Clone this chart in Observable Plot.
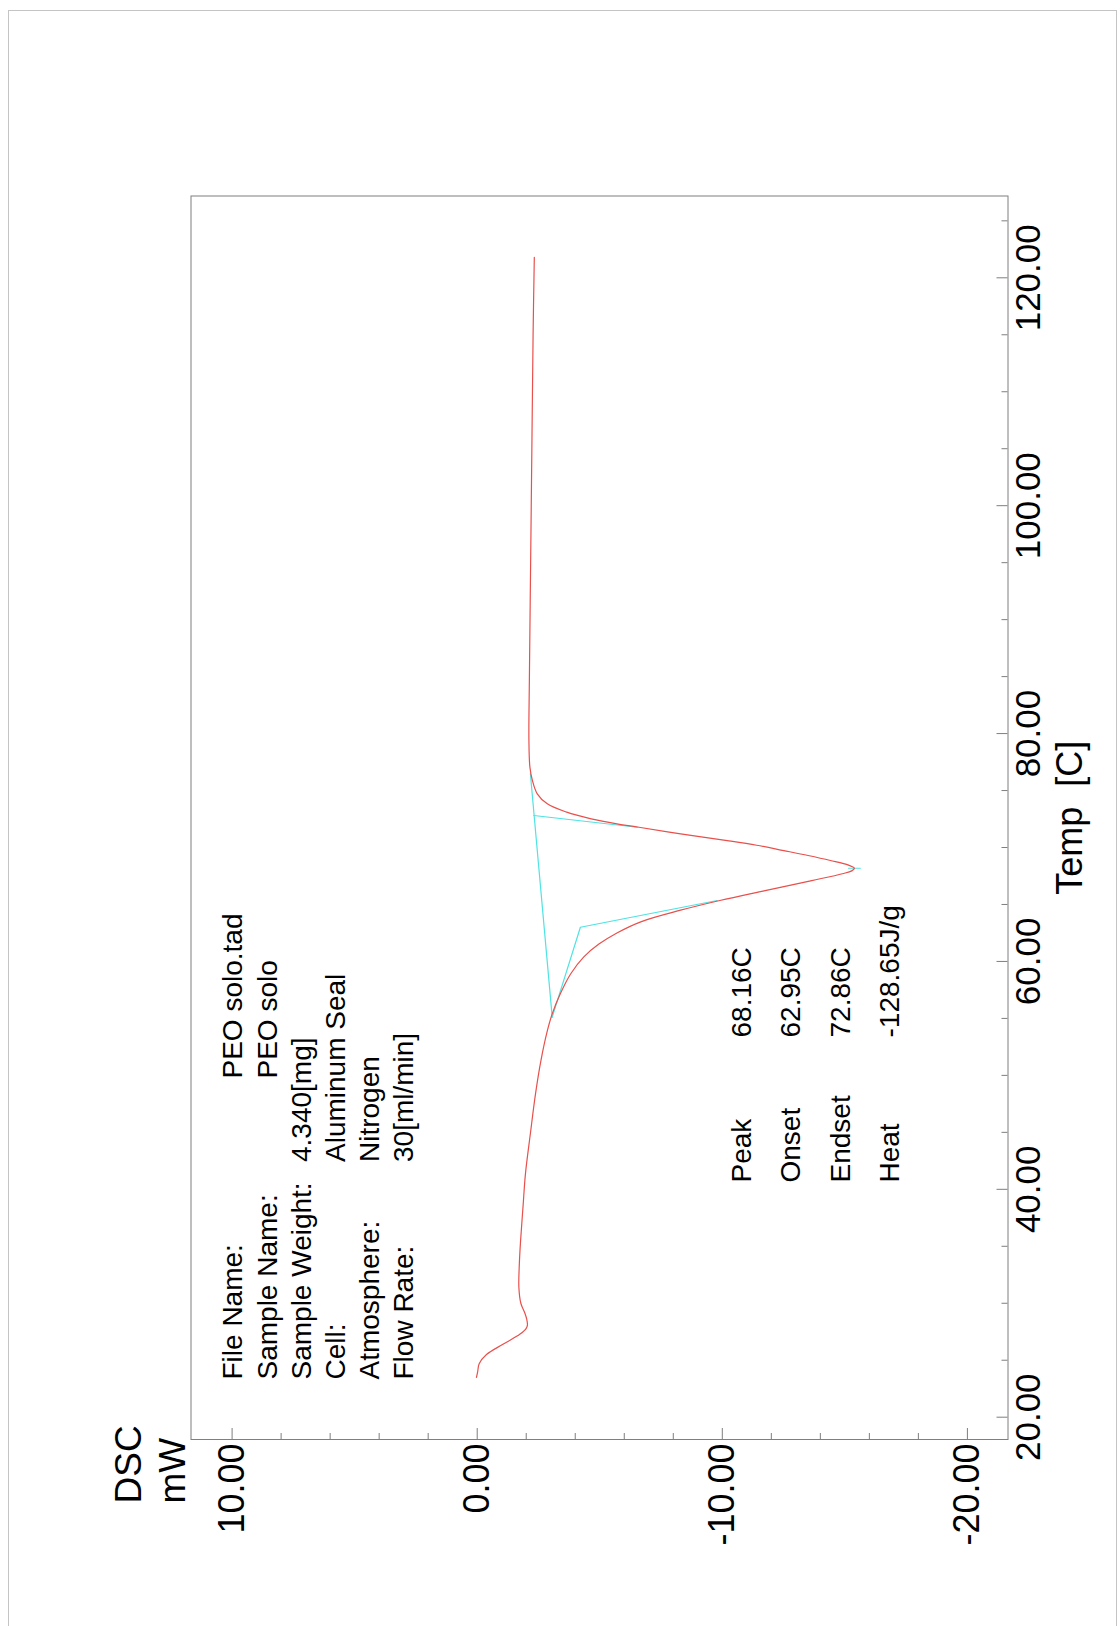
<!DOCTYPE html>
<html><head><meta charset="utf-8">
<script src="https://cdn.jsdelivr.net/npm/d3@7"></script>
<script src="https://cdn.jsdelivr.net/npm/@observablehq/plot@0.6"></script>
<style>
html,body{margin:0;padding:0;background:#fff;}
#page{position:relative;width:1120px;height:1626px;overflow:hidden;}
#border{position:absolute;left:8px;top:10px;width:1109px;height:1700px;border:1px solid #c4c4c4;box-sizing:border-box;}
#chart{position:absolute;left:0;top:0;}
</style></head>
<body><div id="page"><div id="border"></div><div id="chart"></div></div>
<script>
// DSC curve (Temp in C, heat flow in mW)
const tempC = [23.5, 24.0, 24.7, 25.5, 26.4, 27.3, 27.8, 28.1, 28.6, 29.1, 30.0, 31.4, 33.5, 35.5, 38.5, 41.4, 44.9, 48.4, 51.3, 53.9, 55.4, 57.2, 58.9, 60.4, 61.5, 62.5, 63.5, 64.5, 65.35, 66.2, 67.1, 67.7, 67.95, 68.18, 68.45, 68.86, 69.3, 69.73, 70.2, 70.61, 71.2, 71.78, 72.08, 72.52, 73.1, 73.83, 74.71, 75.9, 77.05, 79.4, 85, 95, 105, 115, 121.8];
const dscMW = [0.03, -0.02, -0.08, -0.38, -1.05, -1.75, -2.0, -2.05, -2.02, -1.95, -1.78, -1.70, -1.72, -1.77, -1.87, -1.97, -2.17, -2.38, -2.60, -2.86, -3.06, -3.40, -3.81, -4.35, -4.95, -5.70, -6.7, -8.3, -9.9, -11.7, -13.65, -14.9, -15.28, -15.39, -15.15, -14.41, -13.5, -12.51, -11.4, -10.2, -8.3, -6.6, -5.7, -4.65, -3.65, -2.86, -2.45, -2.25, -2.15, -2.11, -2.13, -2.18, -2.23, -2.28, -2.33];

// analysis construction lines (cyan)
const baselineT = [55.11, 76.47];
const baselineV = [-3.06, -2.17];
const onsetT = [55.11, 63.0, 65.35];
const onsetV = [-3.06, -4.21, -9.79];
const endsetT = [72.81, 71.78];
const endsetV = [-2.31, -6.53];
const peakMarkT = [68.18, 68.18];
const peakMarkV = [-15.15, -15.63];

// axes
const dscMajor = [10, 0, -10, -20];
const dscMinor = [8, 6, 4, 2, -2, -4, -6, -8, -12, -14, -16, -18];
const tempMajor = [20, 40, 60, 80, 100, 120];
const tempMinor = [25, 30, 35, 45, 50, 55, 65, 70, 75, 85, 90, 95, 105, 110, 115, 125];

// texts
const infoLabels = ["File Name:", "Sample Name:", "Sample Weight:", "Cell:", "Atmosphere:", "Flow Rate:"];
const infoValues = ["PEO solo.tad", "PEO solo", "4.340[mg]", "Aluminum Seal", "Nitrogen", "30[ml/min]"];
const resultLabels = ["Peak", "Onset", "Endset", "Heat"];
const resultValues = ["68.16C", "62.95C", "72.86C", "-128.65J/g"];
const xTitle = "Temp\u00a0\u00a0[C]";
const yTitle = ["DSC", "mW"];

const zip = (a, b) => a.map((t, i) => ({t, v: b[i]}));
const curve = zip(tempC, dscMW);

const W = 1120, H = 1626;
const mL = 190.5, mR = 112.5, mT = 195.5, mB = 187;
const plotW = W - mL - mR, plotH = H - mT - mB;
const grey = "#7f7f7f";
const red = "#e8504c";
const cyan = "#4fe3e3";
const font = "'Liberation Sans', Arial, sans-serif";

const T = (opts) => ({rotate: -90, lineAnchor: "middle", fill: "#000", text: d => d, ...opts});

const marks = [
  Plot.frame({stroke: grey, strokeWidth: 1}),
  // DSC axis ticks (bottom, inward)
  Plot.tickX(dscMajor, {x: d => d, insetTop: plotH - 11, stroke: grey}),
  Plot.tickX(dscMinor, {x: d => d, insetTop: plotH - 6, stroke: grey}),
  // Temp axis ticks (right, inward)
  Plot.tickY(tempMajor, {y: d => d, insetLeft: plotW - 11, stroke: grey}),
  Plot.tickY(tempMinor, {y: d => d, insetLeft: plotW - 6, stroke: grey}),
  // tick labels
  Plot.text(dscMajor, T({x: d => d, frameAnchor: "bottom", text: d => d.toFixed(2), textAnchor: "end", dy: 4, fontSize: 36})),
  Plot.text(tempMajor, T({y: d => d, frameAnchor: "right", text: d => d.toFixed(2), textAnchor: "middle", dx: 21, fontSize: 35})),
  Plot.text([xTitle], T({frameAnchor: "right", textAnchor: "middle", dx: 62, fontSize: 36})),
  Plot.text([yTitle[0]], T({frameAnchor: "bottom-left", textAnchor: "start", dx: -61.5, dy: 64, fontSize: 37})),
  Plot.text([yTitle[1]], T({frameAnchor: "bottom-left", textAnchor: "start", dx: -17.5, dy: 64, fontSize: 37})),
  // data
  Plot.line(zip(baselineT, baselineV), {x: "v", y: "t", stroke: cyan, strokeWidth: 1.2}),
  Plot.line(zip(onsetT, onsetV), {x: "v", y: "t", stroke: cyan, strokeWidth: 1.2}),
  Plot.line(zip(endsetT, endsetV), {x: "v", y: "t", stroke: cyan, strokeWidth: 1.2}),
  Plot.line(zip(peakMarkT, peakMarkV), {x: "v", y: "t", stroke: cyan, strokeWidth: 1.2}),
  Plot.line(curve, {x: "v", y: "t", stroke: red, strokeWidth: 1.2, curve: "catmull-rom"})
];

// info block
infoLabels.forEach((s, i) => {
  marks.push(Plot.text([s], T({frameAnchor: "bottom-left", textAnchor: "start", dx: 42.5 + i * 34.2, dy: -60, fontSize: 28})));
  marks.push(Plot.text([infoValues[i]], T({frameAnchor: "bottom-left", textAnchor: "start", dx: 42.5 + i * 34.2, dy: i < 2 ? -361 : -277.5, fontSize: 28})));
});
// results block
resultLabels.forEach((s, i) => {
  marks.push(Plot.text([s], T({frameAnchor: "bottom-left", textAnchor: "start", dx: 551 + i * 49.5, dy: -257, fontSize: 28})));
  marks.push(Plot.text([resultValues[i]], T({frameAnchor: "bottom-left", textAnchor: "start", dx: 551 + i * 49.5, dy: -402, fontSize: 28})));
});

const chart = Plot.plot({
  width: W, height: H,
  marginLeft: mL, marginRight: mR, marginTop: mT, marginBottom: mB,
  x: {domain: [11.677, -21.656], axis: null},
  y: {domain: [18.043, 127.18], axis: null},
  style: {fontFamily: font, background: "transparent", overflow: "visible"},
  marks
});
document.getElementById("chart").appendChild(chart);
</script>
</body></html>
